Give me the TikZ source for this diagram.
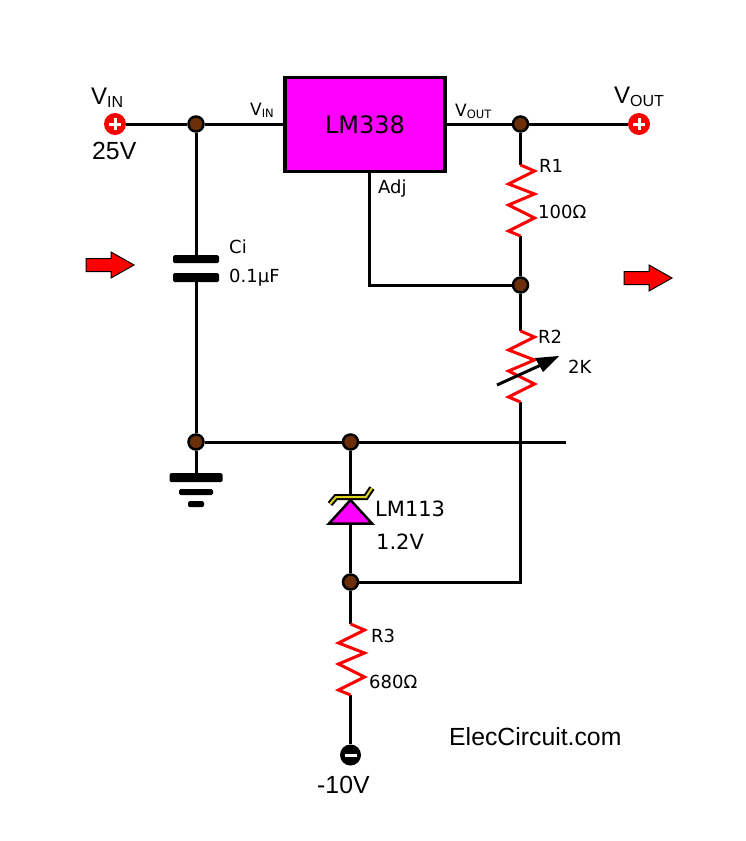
\documentclass[tikz,border=0pt]{standalone}
\usepackage{fontspec}
\setmainfont{DejaVu Sans}
\newfontfamily\arialfont{Liberation Sans}
\usepackage{tikz}
\definecolor{dotbrown}{HTML}{6B2F0A}
\definecolor{icpink}{HTML}{FF00FF}
\newcommand{\bigsub}[2]{{\arialfont\fontsize{24}{26}\selectfont #1\raisebox{-3pt}{\fontsize{16}{18}\selectfont #2}}}
\newcommand{\smallsub}[2]{#1\raisebox{-2.5pt}{\fontsize{11.5}{12}\selectfont #2}}
\tikzset{
  wire/.style={line width=3pt, black},
  dot/.style={circle, draw=black, line width=2.5pt, fill=dotbrown, minimum size=15pt, inner sep=0pt},
  plate/.style={fill=black, rounded corners=1.5pt, inner sep=0pt},
  plusterm/.style={circle, fill=red, minimum size=22pt, inner sep=0pt, path picture={
    \draw[white, line width=3pt] (path picture bounding box.center) ++(-6,0) -- ++(12,0);
    \draw[white, line width=3pt] (path picture bounding box.center) ++(0,-6) -- ++(0,12);}},
  minusterm/.style={circle, fill=black, minimum size=21pt, inner sep=0pt, path picture={
    \draw[white, line width=3pt] (path picture bounding box.center) ++(-6,0) -- ++(12,0);}},
  lbl/.style={anchor=base west, inner sep=0pt, font=\fontsize{18}{20}\selectfont},
  arlbl/.style={anchor=base west, inner sep=0pt, font=\arialfont\fontsize{24.8}{26}\selectfont},
  zigzag/.pic={\draw[red, line width=3pt, line join=miter] (0,0) -- (14,6) -- (-12,19) -- (14,29) -- (-12,40) -- (14,53) -- (-12,66) -- (0,71);},
  blockarrow/.pic={\draw[black, line width=1pt, fill=red] (0,-6.5) -- (25,-6.5) -- (25,-13) -- (48,0) -- (25,13) -- (25,6.5) -- (0,6.5) -- cycle;}
}
\begin{document}
\begin{tikzpicture}[x=1pt, y=-1pt]
\useasboundingbox (0,0) rectangle (746,841);

\node[draw=black, line width=3.5pt, fill=icpink, minimum width=160pt, minimum height=94pt, inner sep=0pt, font=\fontsize{24}{26}\selectfont] (lm338) at (365,124.5) {LM338};

\node[plusterm] (vin) at (115,124) {};
\node[plusterm] (vout) at (639,124) {};
\node[minusterm] (vneg) at (350.5,755) {};
\node[dot] (d1) at (196,124) {};
\node[dot] (d2) at (520.5,124) {};
\node[dot] (d3) at (520.5,285) {};
\node[dot] (d4) at (196,442) {};
\node[dot] (d5) at (350.5,442) {};
\node[dot] (d6) at (350.5,582) {};

\node[plate, minimum width=46pt, minimum height=8pt] (capa) at (196,259) {};
\node[plate, minimum width=46pt, minimum height=9pt] (capb) at (196,277.5) {};
\node[plate, minimum width=53pt, minimum height=9pt] (gnda) at (196,477.5) {};
\node[plate, minimum width=34pt, minimum height=6pt] (gndb) at (196,492) {};
\node[plate, minimum width=16pt, minimum height=6pt] (gndc) at (196,504) {};

\coordinate (r1a) at (520.5,165);
\coordinate (r1b) at (520.5,236);
\coordinate (r2a) at (520.5,331);
\coordinate (r2b) at (520.5,402);
\coordinate (r3a) at (350.5,624);
\coordinate (r3b) at (350.5,695);
\coordinate (adjtop) at (369,172);
\coordinate (adjbot) at (369,285);
\coordinate (gndend) at (566,442);
\coordinate (r2low) at (520.5,582);
\coordinate (zapex) at (350.5,500);
\coordinate (zbase) at (350.5,524);

\draw[wire] (vin) -- (d1);
\draw[wire] (d1) -- (d1 -| lm338.west);
\draw[wire] (d2 -| lm338.east) -- (d2);
\draw[wire] (d2) -- (vout);
\draw[wire] (d1) -- (capa);
\draw[wire] (capb) -- (d4);
\draw[wire] (d4) -- (gnda);
\draw[wire] (d4) -- (d5);
\draw[wire] (d5) -- (gndend);
\draw[wire] (d2) -- (r1a);
\draw[wire] (r1b) -- (d3);
\draw[wire] (adjtop) -- (adjbot) -- (d3);
\draw[wire] (d3) -- (r2a);
\draw[wire] (r2b) -- (r2low) -- (d6);
\draw[wire] (d5) -- (zapex);
\draw[wire] (zbase) -- (d6);
\draw[wire] (d6) -- (r3a);
\draw[wire] (r3b) -- (vneg);

\pic at (r1a) {zigzag};
\pic at (r2a) {zigzag};
\pic at (r3a) {zigzag};
\draw[black, line width=3pt] (497,385) -- (541,365);
\fill[black] (559,356) -- (535,358) -- (543,372) -- cycle;

% zener
\draw[black, line width=2.5pt, fill=icpink, line join=miter] (zapex) -- (372,523.5) -- (329,523.5) -- cycle;
\draw[black, line width=6pt, line join=miter] (330,504) -- (336,497) -- (366,497) -- (372,488);
\draw[yellow!85!black, line width=2pt] (330,504) -- (336,497) -- (366,497) -- (372,488);

\pic at (86,265) {blockarrow};
\pic at (624,278) {blockarrow};

\node[arlbl] (vinbig) at (91,104) {\bigsub{V}{IN}};
\node[arlbl] (voutbig) at (614,103) {\bigsub{V}{OUT}};
\node[arlbl] (v25) at (92,159) {25V};
\node[arlbl] (v10) at (317,793) {-10V};
\node[arlbl] (site) at (449,745) {ElecCircuit.com};

\node[lbl, font=\fontsize{17}{20}\selectfont] (vinsmall) at (250,115) {\smallsub{V}{IN}};
\node[lbl, font=\fontsize{17}{20}\selectfont] (voutsmall) at (455,116) {\smallsub{V}{OUT}};
\node[lbl] (adj) at (378,193) {Adj};
\node[lbl] (r1name) at (539,172) {R1};
\node[lbl] (r1val) at (538,218) {100Ω};
\node[lbl] (r2name) at (538,343) {R2};
\node[lbl] (r2val) at (568,373) {2K};
\node[lbl] (r3name) at (371,642) {R3};
\node[lbl] (r3val) at (369,688) {680Ω};
\node[lbl] (ciname) at (229,253) {Ci};
\node[lbl] (cival) at (229,282) {0.1μF};
\node[lbl, font=\fontsize{21}{24}\selectfont] (zname) at (375,516) {LM113};
\node[lbl, font=\fontsize{21}{24}\selectfont] (zval) at (376,549) {1.2V};
\end{tikzpicture}
\end{document}
